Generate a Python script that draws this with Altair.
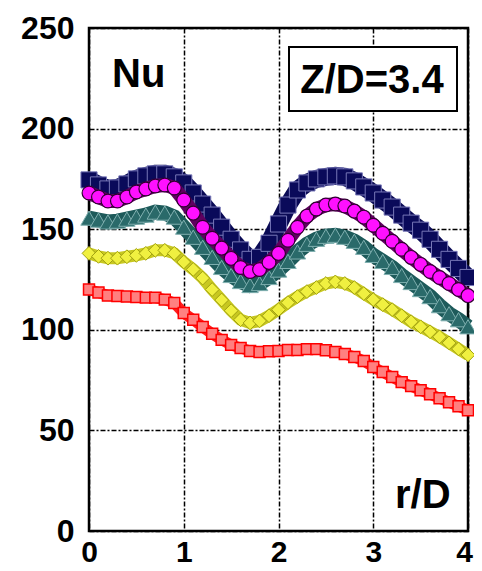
import altair as alt
import pandas as pd

r_values = [round(i * 0.1, 1) for i in range(41)]

nu_navy = [174.5, 172, 170, 170.5, 172.5, 175, 176.5, 177.5, 177.5, 176, 173,
           168, 162.5, 157, 151, 145, 139.7, 135, 136, 143, 152.6,
           162, 169.5, 173, 175, 176, 176.5, 176, 174, 171, 168,
           164.5, 161, 157, 153, 149.5, 145, 140, 135, 130.5, 126]
nu_magenta = [168, 166, 164, 164, 166, 168.5, 170, 171.5, 172, 170.5, 164.5,
              158, 151, 145.5, 140.6, 135.5, 131, 129, 130, 133.5, 138,
              144.5, 151, 156.5, 160, 162, 162.5, 161.5, 159, 156, 152,
              148, 144, 140, 136, 132.5, 129, 126, 123, 120, 117]
nu_teal = [155.5, 154.5, 153.6, 154, 155, 156, 157, 158.5, 158, 156, 151,
           146, 141, 136, 131, 127, 124, 122, 123, 126, 129.7,
           134, 138.7, 142.5, 145, 146.5, 147, 146, 144, 141, 137,
           134, 131, 127, 123.5, 120, 116.5, 112, 108, 105, 101.5]
nu_yellow = [138, 136.5, 135.6, 135.6, 136.3, 137, 138, 139.5, 139.5, 138, 133.7,
             130, 125.7, 120, 114.8, 109.5, 105, 103.4, 104.4, 107, 110,
             113.5, 116.5, 119, 121, 123, 123.8, 123, 121, 118, 115,
             112.5, 110, 107, 104, 101.5, 99, 96.5, 93.5, 90.5, 87.5]
nu_red = [120, 118.5, 117, 116.8, 116.5, 116.3, 116, 116, 115, 113.3, 108.3,
          105, 101.4, 98, 95, 92.5, 91, 89.5, 89, 89.3, 89.5,
          90, 90, 90.4, 90.4, 89.8, 89, 88, 86.5, 84.5, 81.5,
          79, 76.5, 74, 72, 70, 68, 66, 64, 62, 60]

x_ticks = [0, 1, 2, 3, 4]
y_ticks = [0, 50, 100, 150, 200, 250]

FONT = "Liberation Sans"

xs = alt.X("r:Q", scale=alt.Scale(domain=[0, 4], nice=False, zero=False),
           axis=alt.Axis(values=x_ticks, title=None, labelFontSize=30, labelFontWeight="bold",
                         labelFont=FONT, labelColor="black", labelPadding=6, ticks=False,
                         domain=False, grid=True, gridColor="black", gridDash=[5, 2, 2, 2],
                         gridWidth=1.5, labelFlush=False,
                         labelOffset={"condition": {"test": "datum.value == 4", "value": -4},
                                      "value": 0}))
ys = alt.Y("nu:Q", scale=alt.Scale(domain=[0, 250], nice=False),
           axis=alt.Axis(values=y_ticks, title=None, labelFontSize=32, labelFontWeight="bold",
                         labelFont=FONT, labelColor="black", labelPadding=15, ticks=False,
                         domain=False, grid=True, gridColor="black", gridDash=[5, 2, 2, 2],
                         gridWidth=1.5, labelFlush=False))


def series(vals, line_color, line_width, shape, size, fill, stroke, sw):
    df = pd.DataFrame({"r": r_values, "nu": vals})
    base = alt.Chart(df)
    line = base.mark_line(color=line_color, strokeWidth=line_width).encode(x=xs, y=ys)
    pts = base.mark_point(shape=shape, size=size, filled=True, fill=fill, stroke=stroke,
                          strokeWidth=sw, opacity=1).encode(x=xs, y=ys)
    return [line, pts]


layers = []
layers += series(nu_red, "#ff2020", 11, "square", 120, "#ff8080", "#ff0000", 1.5)
layers += series(nu_yellow, "#c8c820", 12, "diamond", 190, "#f0f040", "#a0a010", 1)
layers += series(nu_teal, "#1d5a5a", 15, "triangle-up", 270, "#2a6a6a", "#80b0b0", 1)
layers += series(nu_navy, "#0a0a55", 18, "square", 260, "#0a0a5a", "#7878b8", 1)
layers += series(nu_magenta, "#600060", 14, "circle", 190, "#ff10ff", "#300030", 1.2)

box = alt.Chart(pd.DataFrame({"a": [0]})).mark_rect(fill="white", stroke="black", strokeWidth=2).encode(
    x=alt.value(200), x2=alt.value(368), y=alt.value(19), y2=alt.value(83))

t_nu = alt.Chart(pd.DataFrame({"label": ["Nu"]})).mark_text(
    font=FONT, fontSize=40, fontWeight="bold", align="left", baseline="alphabetic", color="black"
).encode(text="label:N", x=alt.value(23), y=alt.value(59))
t_zd = alt.Chart(pd.DataFrame({"label": ["Z/D=3.4"]})).mark_text(
    font=FONT, fontSize=40, fontWeight="bold", align="center", baseline="alphabetic", color="black"
).encode(text="label:N", x=alt.value(283), y=alt.value(65))
t_rd = alt.Chart(pd.DataFrame({"label": ["r/D"]})).mark_text(
    font=FONT, fontSize=40, fontWeight="bold", align="left", baseline="alphabetic", color="black"
).encode(text="label:N", x=alt.value(306), y=alt.value(480))

chart = alt.layer(*layers, box, t_nu, t_zd, t_rd).properties(
    width=379, height=503,
    autosize=alt.AutoSizeParams(type="none"),
    padding={"left": 81, "top": 20, "right": 6, "bottom": 40},
    background="white",
).configure_view(stroke="black", strokeWidth=2.5)

chart.save("out.html", embed_options={"renderer": "svg", "actions": False})
